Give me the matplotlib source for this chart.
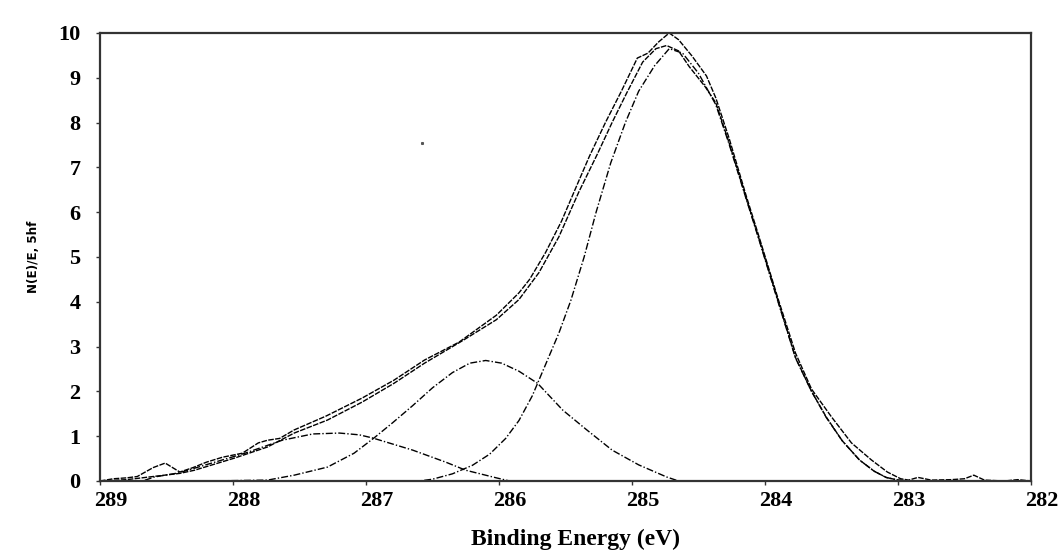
import matplotlib
matplotlib.use("Agg")
import matplotlib.pyplot as plt
from matplotlib.transforms import ScaledTranslation

# C1s spectrum, values
raw_e = [289.0, 288.9, 288.8, 288.72, 288.6, 288.51, 288.4, 288.3, 288.2, 288.08,
         287.93, 287.81, 287.74, 287.65, 287.54, 287.3, 287.03, 286.79, 286.56, 286.3,
         286.02, 285.85, 285.77, 285.65, 285.53, 285.4, 285.32, 285.2, 285.08, 284.96,
         284.88, 284.8, 284.72, 284.65, 284.55, 284.44, 284.37, 284.27, 284.14, 284.05,
         283.9, 283.77, 283.65, 283.5, 283.35, 283.2, 283.08, 282.98, 282.92, 282.85,
         282.75, 282.6, 282.5, 282.43, 282.35, 282.2, 282.1, 282.0]
raw_i = [0.0, 0.05, 0.07, 0.1, 0.3, 0.4, 0.2, 0.3, 0.42, 0.53,
         0.62, 0.85, 0.91, 0.95, 1.14, 1.45, 1.85, 2.25, 2.7, 3.1,
         3.7, 4.2, 4.5, 5.1, 5.8, 6.7, 7.25, 8.0, 8.7, 9.44,
         9.55, 9.8, 10.0, 9.85, 9.49, 9.04, 8.55, 7.65, 6.35, 5.5,
         4.05, 2.85, 2.05, 1.43, 0.85, 0.47, 0.2, 0.05, 0.02, 0.08,
         0.02, 0.03, 0.05, 0.13, 0.02, 0.0, 0.03, 0.0]

env_e = [289.0, 288.8, 288.6, 288.4, 288.29, 287.99, 287.74, 287.54, 287.29, 287.03,
         286.79, 286.56, 286.27, 286.02, 285.85, 285.7, 285.55, 285.4, 285.26, 285.15,
         285.04, 284.92, 284.82, 284.74, 284.65, 284.57, 284.45, 284.37, 284.27, 284.14,
         284.05, 283.9, 283.77, 283.65, 283.54, 283.42, 283.29, 283.18, 283.09, 283.0,
         282.9, 282.0]
env_i = [0.0, 0.03, 0.1, 0.17, 0.24, 0.51, 0.76, 1.07, 1.36, 1.76,
         2.18, 2.63, 3.14, 3.6, 4.05, 4.65, 5.45, 6.45, 7.3, 8.0,
         8.66, 9.35, 9.65, 9.72, 9.6, 9.25, 8.8, 8.44, 7.55, 6.3,
         5.45, 4.0, 2.75, 2.0, 1.43, 0.9, 0.47, 0.22, 0.08, 0.02,
         0.0, 0.0]

# fitted components
c1_e = [286.75, 286.6, 286.5, 286.35, 286.2, 286.07, 285.95, 285.85, 285.75, 285.65,
        285.55, 285.46, 285.36, 285.27, 285.16, 285.05, 284.95, 284.83, 284.72, 284.62,
        284.5, 284.37, 284.27, 284.14, 284.05, 283.9, 283.77, 283.65, 283.54, 283.42,
        283.29, 283.18, 283.09, 283.0, 282.9]
c1_i = [0.0, 0.0, 0.04, 0.16, 0.35, 0.6, 0.95, 1.35, 1.9, 2.6,
        3.3, 4.03, 5.0, 6.0, 7.1, 8.0, 8.7, 9.27, 9.65, 9.55,
        9.1, 8.4, 7.52, 6.28, 5.43, 3.98, 2.74, 2.0, 1.42, 0.9,
        0.47, 0.22, 0.08, 0.02, 0.0]

c2_e = [288.2, 287.74, 287.54, 287.29, 287.09, 286.94, 286.8, 286.65, 286.5, 286.35,
        286.22, 286.1, 285.98, 285.85, 285.71, 285.52, 285.34, 285.15, 284.95, 284.74,
        284.65, 284.55]
c2_i = [0.0, 0.02, 0.13, 0.31, 0.62, 0.96, 1.3, 1.68, 2.08, 2.42,
        2.63, 2.69, 2.63, 2.45, 2.18, 1.58, 1.14, 0.69, 0.36, 0.09,
        0.0, 0.0]

c3_e = [288.85, 288.68, 288.59, 288.41, 288.16, 287.91, 287.63, 287.4, 287.2, 287.05,
        286.95, 286.65, 286.4, 286.25, 286.02, 285.92, 285.8]
c3_i = [0.0, 0.0, 0.09, 0.18, 0.4, 0.62, 0.91, 1.05, 1.07, 1.03,
        0.96, 0.69, 0.42, 0.24, 0.07, 0.0, 0.0]

stray_e = [286.58]
stray_i = [7.55]

x_ticks = [289, 288, 287, 286, 285, 284, 283, 282]
y_ticks = list(range(0, 11))

fig = plt.figure(figsize=(10.63, 5.56), dpi=100)
ax = fig.add_axes([0.0941, 0.1349, 0.8758, 0.8058])

ax.plot(raw_e, raw_i, color="black", lw=1.0, ls=(0, (4, 1)))
ax.plot(env_e, env_i, color="black", lw=1.0, ls=(0, (4, 1)))
for e, v in [(c1_e, c1_i), (c2_e, c2_i), (c3_e, c3_i)]:
    ax.plot(e, v, color="black", lw=1.0, ls=(0, (5, 1.5, 1, 1.5)))
ax.plot(stray_e, stray_i, ls="none", marker="s", ms=1.2, color="#555555")

ax.set_xlim(289, 282)
ax.set_ylim(0, 10)
ax.set_xticks(x_ticks)
ax.set_yticks(y_ticks)

serif = ["Liberation Serif", "DejaVu Serif"]
ax.set_xticklabels([str(t) for t in x_ticks], family=serif, weight="bold", fontsize=16)
ax.set_yticklabels([str(t) for t in y_ticks], family=serif, weight="bold", fontsize=16)
ax.tick_params(axis="x", length=3, width=1, pad=4, color="#333333")
ax.tick_params(axis="y", length=3, width=1, pad=11, color="#333333")

# labels sit a little right of their ticks in the original
shift = ScaledTranslation(11 / 100, 0, fig.dpi_scale_trans)
for lab in ax.get_xticklabels():
    lab.set_transform(lab.get_transform() + shift)

for s in ax.spines.values():
    s.set_color("#333333")
    s.set_linewidth(1.6)

ax.set_xlabel("Binding Energy (eV)", family=serif, weight="bold", fontsize=17)
ax.xaxis.set_label_coords(0.511, -0.106)
ax.set_ylabel("N(E)/E, 5hf", family="DejaVu Sans", weight="bold", fontsize=9.5,
              stretch="condensed")
ax.yaxis.set_label_coords(-0.064, 0.5)

fig.savefig("out.png", dpi=100)
